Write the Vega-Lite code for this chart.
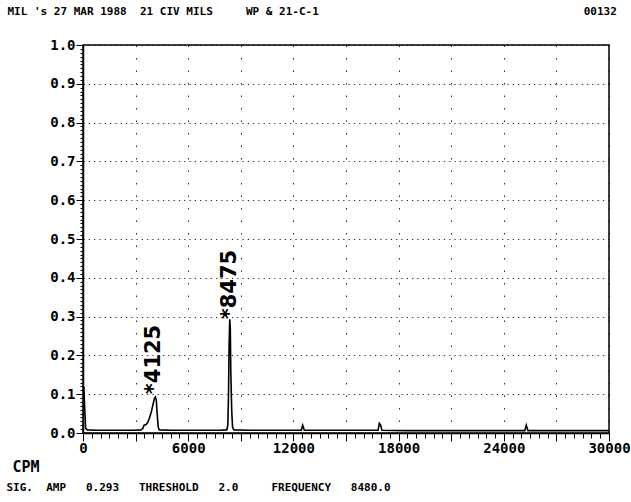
{
  "$schema": "https://vega.github.io/schema/vega-lite/v6.json",
  "width": 526,
  "height": 388,
  "autosize": {"type": "none"},
  "padding": {"left": 83, "top": 45, "right": 22, "bottom": 69},
  "background": "white",
  "config": {
    "view": {"stroke": "black", "strokeWidth": 1.5},
    "axis": {
      "domainColor": "black",
      "tickColor": "black",
      "labelColor": "black",
      "titleColor": "black",
      "labelFont": "DejaVu Sans Mono",
      "labelFontWeight": "bold",
      "titleFont": "DejaVu Sans Mono",
      "titleFontWeight": "bold",
      "labelFlush": false,
      "labelOverlap": false,
      "titleLimit": 1000
    }
  },
  "datasets": {
    "spectrum": [
      {"cpm": 0, "amp": 0.12}, {"cpm": 50, "amp": 0.118}, {"cpm": 100, "amp": 0.06}, {"cpm": 150, "amp": 0.012},
      {"cpm": 250, "amp": 0.008}, {"cpm": 800, "amp": 0.007}, {"cpm": 1500, "amp": 0.007}, {"cpm": 2200, "amp": 0.007},
      {"cpm": 2900, "amp": 0.007}, {"cpm": 3300, "amp": 0.008}, {"cpm": 3420, "amp": 0.012}, {"cpm": 3480, "amp": 0.02},
      {"cpm": 3600, "amp": 0.022}, {"cpm": 3700, "amp": 0.028}, {"cpm": 3800, "amp": 0.04}, {"cpm": 3900, "amp": 0.055},
      {"cpm": 4000, "amp": 0.075}, {"cpm": 4080, "amp": 0.09}, {"cpm": 4130, "amp": 0.093}, {"cpm": 4180, "amp": 0.085},
      {"cpm": 4230, "amp": 0.05}, {"cpm": 4290, "amp": 0.015}, {"cpm": 4350, "amp": 0.008}, {"cpm": 5000, "amp": 0.007},
      {"cpm": 6000, "amp": 0.007}, {"cpm": 7000, "amp": 0.007}, {"cpm": 7800, "amp": 0.007}, {"cpm": 8200, "amp": 0.008},
      {"cpm": 8260, "amp": 0.02}, {"cpm": 8300, "amp": 0.1}, {"cpm": 8330, "amp": 0.22}, {"cpm": 8370, "amp": 0.293},
      {"cpm": 8400, "amp": 0.27}, {"cpm": 8430, "amp": 0.16}, {"cpm": 8480, "amp": 0.06}, {"cpm": 8530, "amp": 0.015},
      {"cpm": 8600, "amp": 0.008}, {"cpm": 9500, "amp": 0.007}, {"cpm": 10500, "amp": 0.007}, {"cpm": 11500, "amp": 0.007},
      {"cpm": 12450, "amp": 0.007}, {"cpm": 12530, "amp": 0.02}, {"cpm": 12620, "amp": 0.007}, {"cpm": 13500, "amp": 0.007},
      {"cpm": 14500, "amp": 0.007}, {"cpm": 15500, "amp": 0.007}, {"cpm": 16830, "amp": 0.007}, {"cpm": 16900, "amp": 0.025},
      {"cpm": 16980, "amp": 0.02}, {"cpm": 17050, "amp": 0.007}, {"cpm": 18500, "amp": 0.006}, {"cpm": 20000, "amp": 0.006},
      {"cpm": 21500, "amp": 0.006}, {"cpm": 23000, "amp": 0.006}, {"cpm": 24500, "amp": 0.006}, {"cpm": 25200, "amp": 0.006},
      {"cpm": 25280, "amp": 0.02}, {"cpm": 25380, "amp": 0.006}, {"cpm": 26500, "amp": 0.006}, {"cpm": 28000, "amp": 0.006},
      {"cpm": 29500, "amp": 0.006}, {"cpm": 30000, "amp": 0.006}
    ],
    "peaks": [
      {"cpm": 4060, "amp": 0.1, "label": "*4125"},
      {"cpm": 8370, "amp": 0.293, "label": "*8475"}
    ]
  },
  "layer": [
    {
      "data": {"name": "spectrum"},
      "mark": {"type": "line", "color": "black", "strokeWidth": 1.6},
      "encoding": {
        "x": {
          "field": "cpm", "type": "quantitative",
          "scale": {"domain": [0, 30000], "nice": false, "zero": false},
          "axis": {
            "orient": "bottom",
            "values": [0, 3000, 6000, 9000, 12000, 15000, 18000, 21000, 24000, 27000, 30000],
            "labelExpr": "datum.value % 6000 === 0 ? format(datum.value, 'd') : ''",
            "labelFontSize": 14, "labelPadding": 0,
            "tickSize": 8, "tickWidth": 1, "domainWidth": 1.5,
            "grid": true, "gridColor": "black", "gridDash": [1.5, 11], "gridWidth": 1, "gridOpacity": 0.85,
            "title": "CPM", "titleFontSize": 15, "titleX": -71, "titleY": 26,
            "titleAlign": "left", "titleAnchor": "start", "titleBaseline": "top"
          }
        },
        "y": {
          "field": "amp", "type": "quantitative",
          "scale": {"domain": [0, 1], "nice": false, "zero": false},
          "axis": {
            "orient": "left",
            "values": [0, 0.1, 0.2, 0.3, 0.4, 0.5, 0.6, 0.7, 0.8, 0.9, 1.0],
            "format": ".1f",
            "labelFontSize": 14, "labelPadding": 1,
            "tickSize": 7, "tickWidth": 1, "domainWidth": 1.5,
            "grid": true, "gridColor": "black", "gridDash": [1.2, 4.1], "gridWidth": 1, "gridOpacity": 0.85,
            "title": "MIL 's 27 MAR 1988\u00a0\u00a021 CIV MILS\u00a0\u00a0\u00a0\u00a0\u00a0WP & 21-C-1\u00a0\u00a0\u00a0\u00a0\u00a0\u00a0\u00a0\u00a0\u00a0\u00a0\u00a0\u00a0\u00a0\u00a0\u00a0\u00a0\u00a0\u00a0\u00a0\u00a0\u00a0\u00a0\u00a0\u00a0\u00a0\u00a0\u00a0\u00a0\u00a0\u00a0\u00a0\u00a0\u00a0\u00a0\u00a0\u00a0\u00a0\u00a0\u00a0\u00a000132",
            "titleAngle": 0, "titleFontSize": 11, "titleX": -76, "titleY": -40,
            "titleAlign": "left", "titleBaseline": "top"
          }
        }
      }
    },
    {
      "data": {"name": "peaks"},
      "mark": {"type": "text", "angle": 270, "align": "left", "baseline": "middle", "font": "DejaVu Sans", "fontWeight": "bold", "fontSize": 21, "color": "black"},
      "encoding": {
        "x": {"field": "cpm", "type": "quantitative", "scale": {"domain": [0, 30000], "nice": false, "zero": false}, "axis": null},
        "y": {"field": "amp", "type": "quantitative", "scale": {"domain": [0, 1], "nice": false, "zero": false}, "axis": null},
        "text": {"field": "label"}
      }
    },
    {
      "data": {"name": "spectrum"},
      "mark": {"type": "line", "strokeOpacity": 0},
      "encoding": {
        "x": {
          "field": "cpm", "type": "quantitative",
          "scale": {"domain": [0, 30000], "nice": false, "zero": false},
          "axis": {
            "orient": "bottom",
            "values": [0, 500, 1000, 1500, 2000, 2500, 3000, 3500, 4000, 4500, 5000, 5500, 6000, 6500, 7000, 7500, 8000, 8500, 9000, 9500, 10000, 10500, 11000, 11500, 12000, 12500, 13000, 13500, 14000, 14500, 15000, 15500, 16000, 16500, 17000, 17500, 18000, 18500, 19000, 19500, 20000, 20500, 21000, 21500, 22000, 22500, 23000, 23500, 24000, 24500, 25000, 25500, 26000, 26500, 27000, 27500, 28000, 28500, 29000, 29500, 30000],
            "labels": false, "grid": false, "domain": false,
            "tickSize": 5, "tickWidth": 1,
            "title": "SIG.\u00a0\u00a0AMP\u00a0\u00a0\u00a00.293\u00a0\u00a0\u00a0THRESHOLD\u00a0\u00a0\u00a02.0\u00a0\u00a0\u00a0\u00a0\u00a0FREQUENCY\u00a0\u00a0\u00a08480.0",
            "titleFontSize": 11, "titleX": -77, "titleY": 48,
            "titleAlign": "left", "titleAnchor": "start", "titleBaseline": "top"
          }
        },
        "y": {
          "field": "amp", "type": "quantitative",
          "scale": {"domain": [0, 1], "nice": false, "zero": false},
          "axis": {
            "orient": "left",
            "values": [0, 0.01, 0.02, 0.03, 0.04, 0.05, 0.06, 0.07, 0.08, 0.09, 0.1, 0.11, 0.12, 0.13, 0.14, 0.15, 0.16, 0.17, 0.18, 0.19, 0.2, 0.21, 0.22, 0.23, 0.24, 0.25, 0.26, 0.27, 0.28, 0.29, 0.3, 0.31, 0.32, 0.33, 0.34, 0.35, 0.36, 0.37, 0.38, 0.39, 0.4, 0.41, 0.42, 0.43, 0.44, 0.45, 0.46, 0.47, 0.48, 0.49, 0.5, 0.51, 0.52, 0.53, 0.54, 0.55, 0.56, 0.57, 0.58, 0.59, 0.6, 0.61, 0.62, 0.63, 0.64, 0.65, 0.66, 0.67, 0.68, 0.69, 0.7, 0.71, 0.72, 0.73, 0.74, 0.75, 0.76, 0.77, 0.78, 0.79, 0.8, 0.81, 0.82, 0.83, 0.84, 0.85, 0.86, 0.87, 0.88, 0.89, 0.9, 0.91, 0.92, 0.93, 0.94, 0.95, 0.96, 0.97, 0.98, 0.99, 1.0],
            "labels": false, "grid": false, "domain": false,
            "tickSize": 3, "tickWidth": 1,
            "title": null
          }
        }
      }
    }
  ],
  "resolve": {
    "scale": {"x": "independent", "y": "independent"},
    "axis": {"x": "independent", "y": "independent"}
  }
}
